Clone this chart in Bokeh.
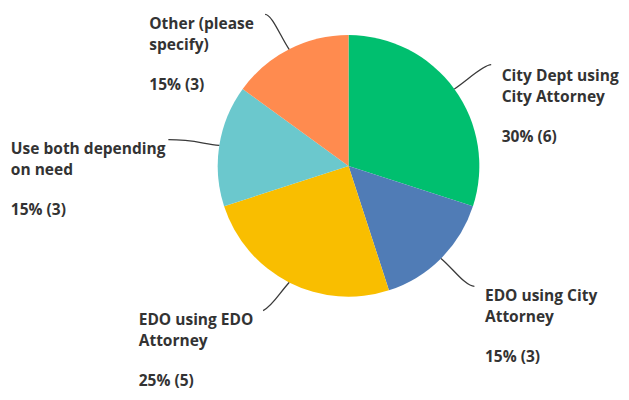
import math
from bokeh.plotting import figure
from bokeh.models import Range1d, ColumnDataSource
from bokeh.core.properties import value
from bokeh.embed import file_html
from bokeh.resources import INLINE

# ---- data ----
categories = ["City Dept using\nCity Attorney",
              "EDO using City\nAttorney",
              "EDO using EDO\nAttorney",
              "Use both depending\non need",
              "Other (please\nspecify)"]
counts = [6, 3, 5, 3, 3]
percent_labels = ["30% (6)", "15% (3)", "25% (5)", "15% (3)", "15% (3)"]
colors = ["#00BF6F", "#507CB6", "#F9BE00", "#6BC8CD", "#FF8B4F"]

# ---- layout (reference pixel coords: x right, y down) ----
H = 400
cx, cy, R = 352.5, 170.5, 132.5
label_x = [507.7, 490.7, 140.0, 10.5, 150.7]
label_b1 = [78.5, 301.7, 325.5, 152.5, 26.0]
line_gap = 21.0
pct_gap = 61.5
# leader line start points near labels (ref coords) and first control points
lead_start = [(497, 68), (480, 292.5), (266, 317), (170, 144), (268, 17)]
lead_c0 = [(489, 68), (471, 292.5), (275, 313), (195, 144), (275, 17)]

def Y(y):
    return H - y

p = figure(width=621, height=392, output_backend="svg", toolbar_location=None,
           x_range=Range1d(0, 629), y_range=Range1d(0, 397),
           min_border=0, outline_line_color=None)
p.axis.visible = False
p.grid.visible = False
p.background_fill_color = "white"
p.border_fill_color = "white"

total = sum(counts)
starts, ends, mids = [], [], []
cum = 0
for c in counts:
    a0 = math.pi / 2 - 2 * math.pi * cum / total
    cum += c
    a1 = math.pi / 2 - 2 * math.pi * cum / total
    starts.append(a1)
    ends.append(a0)
    mids.append((a0 + a1) / 2)

src = ColumnDataSource(dict(start=starts, end=ends, color=colors,
                            x=[cx] * len(counts), y=[Y(cy)] * len(counts)))
p.wedge(x="x", y="y", radius=R, start_angle="start", end_angle="end",
        direction="anticlock", fill_color="color", line_color=None, source=src)

# leader lines
bx0, by0, bx1, by1, cx0s, cy0s, cx1s, cy1s = [], [], [], [], [], [], [], []
for i, m in enumerate(mids):
    ex = cx + R * math.cos(m)
    ey = cy - R * math.sin(m)
    sx, sy = lead_start[i]
    c0x, c0y = lead_c0[i]
    c1x = ex + (sx - ex) * 0.35
    c1y = ey + (sy - ey) * 0.35
    bx0.append(sx); by0.append(Y(sy))
    bx1.append(ex); by1.append(Y(ey))
    cx0s.append(c0x); cy0s.append(Y(c0y))
    cx1s.append(c1x); cy1s.append(Y(c1y))
p.bezier(x0=bx0, y0=by0, x1=bx1, y1=by1, cx0=cx0s, cy0=cy0s, cx1=cx1s, cy1=cy1s,
         line_color="#3a3a3a", line_width=1.3)

# labels
tx, ty, tt = [], [], []
for i, cat in enumerate(categories):
    lines = cat.split("\n")
    for j, ln in enumerate(lines):
        tx.append(label_x[i]); ty.append(Y(label_b1[i] + j * line_gap)); tt.append(ln)
    tx.append(label_x[i]); ty.append(Y(label_b1[i] + pct_gap)); tt.append(percent_labels[i])
p.text(x=tx, y=ty, text=tt, text_font=value("Open Sans"), text_font_style="bold",
       text_font_size="15.5px", text_color="#333333", text_align="left",
       text_baseline="alphabetic")

open("out.html", "w").write(file_html(p, INLINE))
